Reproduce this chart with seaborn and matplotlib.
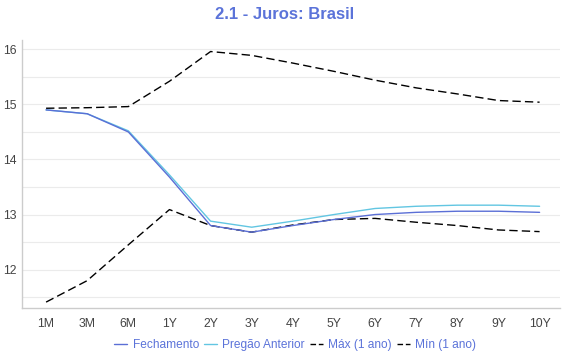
import matplotlib
matplotlib.use("Agg")
import matplotlib.pyplot as plt
import seaborn as sns
import pandas as pd
from matplotlib.lines import Line2D

# vertices (curva de juros)
vertices = ['1M', '3M', '6M', '1Y', '2Y', '3Y', '4Y', '5Y', '6Y', '7Y', '8Y', '9Y', '10Y']
fechamento = [14.90, 14.83, 14.50, 13.68, 12.80, 12.68, 12.80, 12.91, 13.00, 13.04, 13.06, 13.06, 13.04]
pregao_anterior = [14.90, 14.83, 14.52, 13.72, 12.88, 12.77, 12.88, 13.00, 13.11, 13.15, 13.17, 13.17, 13.15]
max_1ano = [14.93, 14.94, 14.96, 15.42, 15.96, 15.89, 15.75, 15.60, 15.44, 15.30, 15.19, 15.07, 15.04]
min_1ano = [11.41, 11.80, 12.45, 13.09, 12.80, 12.68, 12.81, 12.91, 12.93, 12.86, 12.80, 12.72, 12.69]

df = pd.DataFrame({
    'x': range(len(vertices)),
    'Fechamento': fechamento,
    'Pregão Anterior': pregao_anterior,
    'Máx (1 ano)': max_1ano,
    'Mín (1 ano)': min_1ano,
})

sns.set_style("white")
plt.rcParams['font.family'] = ['Liberation Sans', 'DejaVu Sans']

fig = plt.figure(figsize=(5.7, 3.6), dpi=100)
ax = fig.add_axes([0.039, 0.144, 0.943, 0.745])

blue = '#5b6fd6'
cyan = '#62c6e2'
styles = {
    'Fechamento': dict(color=blue, lw=1.0),
    'Pregão Anterior': dict(color=cyan, lw=1.0),
    'Máx (1 ano)': dict(color='black', lw=1.0, dashes=(6, 3)),
    'Mín (1 ano)': dict(color='black', lw=1.0, dashes=(6, 3)),
}
for name in ['Máx (1 ano)', 'Mín (1 ano)', 'Pregão Anterior', 'Fechamento']:
    st = styles[name]
    sns.lineplot(data=df, x='x', y=name, ax=ax, color=st['color'], linewidth=st['lw'])
    if 'dashes' in st:
        ax.lines[-1].set_dashes(st['dashes'])

ax.set_xlim(-0.58, len(vertices) - 0.51)
ax.set_ylim(11.3, 16.17)
ax.set_xticks(range(len(vertices)))
ax.set_xticklabels(vertices)
ax.set_yticks([12, 13, 14, 15, 16])
ax.set_yticks([11.5, 12.5, 13.5, 14.5, 15.5], minor=True)
ax.grid(True, which='both', axis='y', color='#ebebeb', lw=0.8)
ax.set_axisbelow(True)
ax.set_xlabel('')
ax.set_ylabel('')
for s in ['top', 'right']:
    ax.spines[s].set_visible(False)
for s in ['left', 'bottom']:
    ax.spines[s].set_color('#cccccc')
    ax.spines[s].set_linewidth(1.0)
ax.tick_params(axis='both', which='both', length=0, labelsize=8.8, labelcolor='#444444')
ax.tick_params(axis='x', pad=7)
ax.tick_params(axis='y', pad=4)

fig.suptitle('2.1 - Juros: Brasil', y=0.98, fontsize=12, fontweight='bold', color='#5b73d9')

handles = [
    Line2D([], [], color=blue, lw=1.0),
    Line2D([], [], color=cyan, lw=1.0),
    Line2D([], [], color='black', lw=1.0, dashes=(4, 2)),
    Line2D([], [], color='black', lw=1.0, dashes=(4, 2)),
]
leg = fig.legend(handles, ['Fechamento', 'Pregão Anterior', 'Máx (1 ano)', 'Mín (1 ano)'],
                 loc='lower center', bbox_to_anchor=(0.518, -0.005), ncol=4, frameon=False,
                 fontsize=8.6, handlelength=1.1, handletextpad=0.45, columnspacing=0.4)
for t in leg.get_texts():
    t.set_color('#5b73d9')

fig.savefig('out.png', dpi=100)
